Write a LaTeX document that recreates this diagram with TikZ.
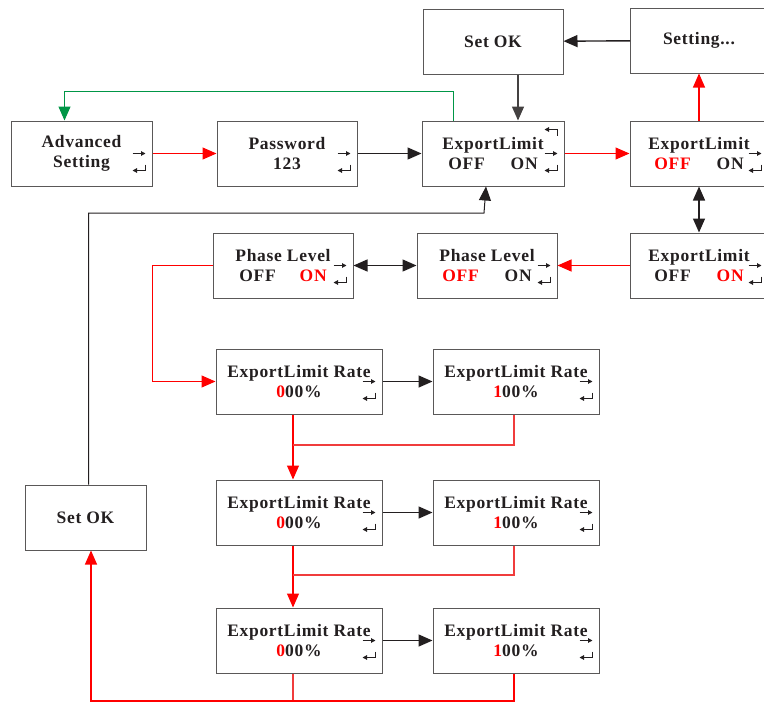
\documentclass[tikz,border=0pt]{standalone}
\usepackage{fontspec}
\newfontfamily\boxfont{Liberation Serif}[LetterSpace=4]
\usetikzlibrary{arrows.meta, positioning}
\definecolor{inkblack}{RGB}{35,31,32}
\definecolor{boxgray}{RGB}{90,88,88}
\definecolor{flowred}{RGB}{255,0,0}
\definecolor{linered}{RGB}{240,60,60}
\definecolor{backgreen}{RGB}{0,150,70}
\newcommand{\boxtext}{\boxfont\bfseries\fontsize{17.5}{19.5}\selectfont}
\newcommand{\hot}[1]{\textcolor{flowred}{#1}}

\begin{document}
\begin{tikzpicture}[
    x=1pt, y=-1pt,
    box/.style={rectangle, draw=boxgray, line width=1pt, fill=white, minimum width=#1, minimum height=65pt, inner sep=0pt, align=center, text=inkblack, font=\boxtext},
    box/.default=140pt,
    arrow/.style={-{Triangle[length=14pt, width=12pt]}, line width=1.4pt, draw=inkblack},
    twoway/.style={{Triangle[length=14pt, width=12pt]}-{Triangle[length=14pt, width=12pt]}, line width=1.4pt, draw=inkblack},
    redarrow/.style={arrow, draw=flowred, line width=1.1pt},
    redline/.style={draw=linered, line width=1.1pt},
    key/.style={-{Triangle[length=4.5pt, width=4.5pt]}, line width=1.1pt, draw=inkblack}
]
\useasboundingbox (0,0) rectangle (764,704);

% Top row
\node[box=141pt] (adv) at (81.5,153.5) {Advanced\\Setting};
\node[box, right=64pt of adv] (pwd) {Password\\123};
\node[box=142pt, right=64pt of pwd] (el0) {ExportLimit\\OFF\hspace{26pt}ON};
\node[box=138pt, right=65pt of el0] (el1) {ExportLimit\\\hot{OFF}\hspace{26pt}ON};

% Confirm screens
\node[box, above=46pt of el0] (setok) {Set OK};
\node[box=137pt, above=47pt of el1] (setting) {Setting...};

% Phase level row
\node[box=138pt, below=46pt of el1] (el2) {ExportLimit\\OFF\hspace{26pt}\hot{ON}};
\node[box, left=72pt of el2] (pl0) {Phase Level\\\hot{OFF}\hspace{26pt}ON};
\node[box, left=63pt of pl0] (pl1) {Phase Level\\OFF\hspace{24pt}\hot{ON}};

% Rate screens
\node[box=166pt] (r1a) at (299,381.5) {ExportLimit Rate\\\hot{0}00\%};
\node[box=166pt, right=50pt of r1a] (r1b) {ExportLimit Rate\\\hot{1}00\%};
\node[box=166pt, below=65pt of r1a] (r2a) {ExportLimit Rate\\\hot{0}00\%};
\node[box=166pt, right=50pt of r2a] (r2b) {ExportLimit Rate\\\hot{1}00\%};
\node[box=166pt, below=62pt of r2a] (r3a) {ExportLimit Rate\\\hot{0}00\%};
\node[box=166pt, right=50pt of r3a] (r3b) {ExportLimit Rate\\\hot{1}00\%};

\node[box=121pt] (setok2) at (85.5,517.5) {Set OK};

% Key icons
\foreach \n in {adv,pwd,el0,el1,el2,pl0,pl1,r1a,r1b,r2a,r2b,r3a,r3b} {
    \draw[key] ([xshift=-20pt]\n.east) -- ([xshift=-7pt]\n.east);
    \draw[key] ([xshift=-7pt,yshift=-11pt]\n.east) |- ([xshift=-20pt,yshift=-17pt]\n.east);
}
\draw[key] ([xshift=-7pt,yshift=18pt]el0.east) |- ([xshift=-20pt,yshift=24pt]el0.east);

% Joints
\coordinate (j1) at (293,445);
\coordinate (j2) at (293,575);
\coordinate (j3) at (91,701);
\coordinate (j4) at (484,213);

% Top row arrows
\draw[redarrow] (adv) -- (pwd);
\draw[arrow] (pwd) -- (el0);
\draw[redarrow] (el0) -- (el1);
\draw[redarrow] (el1) -- (setting);
\draw[arrow] (setting) -- (setok);
\draw[arrow, draw=inkblack!85] ([xshift=25pt]setok.south) -- ([xshift=25pt]el0.north);
\draw[-{Triangle[length=14pt, width=12pt]}, draw=backgreen, line width=1pt]
    ([xshift=-40pt]el0.north) -- ++(0,-29) -| ([xshift=-17pt]adv.north);

% Phase level arrows
\draw[twoway] (el1) -- (el2);
\draw[redarrow] (el2) -- (pl0);
\draw[twoway] (pl0) -- (pl1);
\draw[redarrow] (pl1.west) -- ++(-60,0) |- (r1a.west);

% Rate arrows
\draw[arrow] (r1a) -- (r1b);
\draw[arrow] (r2a) -- (r2b);
\draw[arrow] (r3a) -- (r3b);
\draw[redarrow] ([xshift=-6pt]r1a.south) -- ([xshift=-6pt]r2a.north);
\draw[redline] ([xshift=-2pt]r1b.south) |- (j1);
\draw[redarrow] ([xshift=-6pt]r2a.south) -- ([xshift=-6pt]r3a.north);
\draw[redline] ([xshift=-2pt]r2b.south) |- (j2);
\draw[redline] ([xshift=-6pt]r3a.south) -- ([xshift=-6pt]r3a.south |- j3);
\draw[redarrow] ([xshift=-2pt]r3b.south) |- (j3) -- ([xshift=5.5pt]setok2.south);

% Back to the start
\draw[arrow, line width=1pt] ([xshift=3pt]setok2.north) |- (j4) -- ([xshift=-7pt]el0.south);

\end{tikzpicture}
\end{document}
